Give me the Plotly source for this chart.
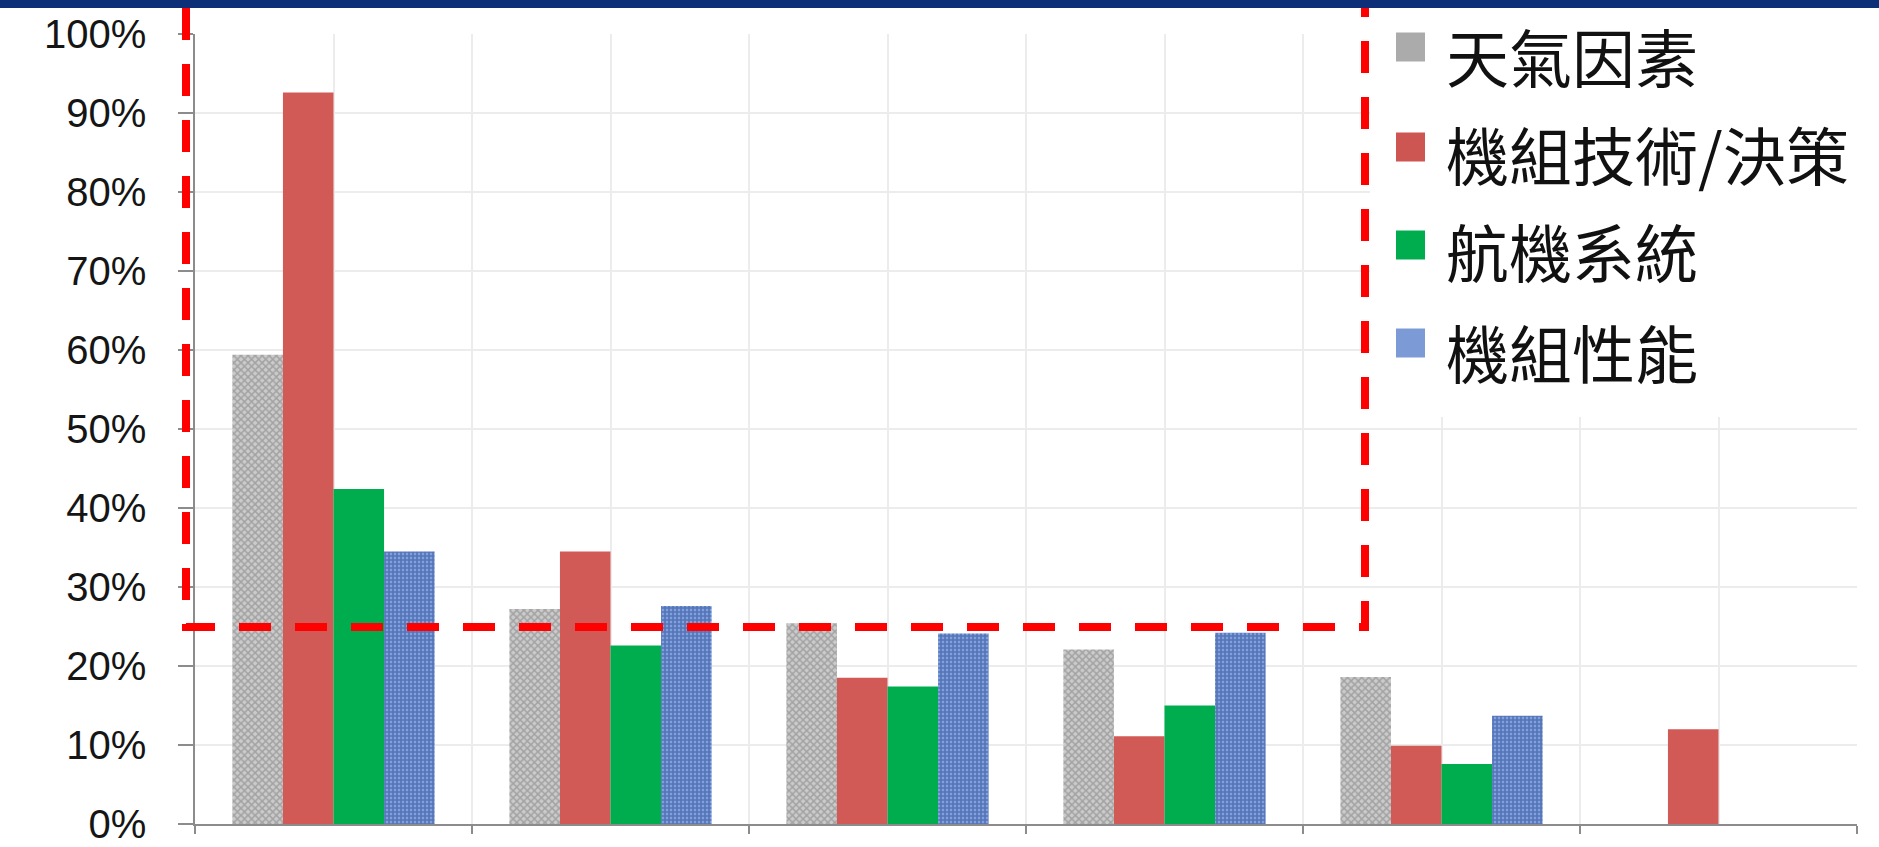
import plotly.graph_objects as go

# Category positions (six groups, no printed labels)
groups = [0, 1, 2, 3, 4, 5]

series_names = ["天氣因素", "機組技術/決策", "航機系統", "機組性能"]
weather = [0.594, 0.272, 0.254, 0.221, 0.186, None]
crew_decision = [0.926, 0.345, 0.185, 0.111, 0.099, 0.120]
aircraft_system = [0.424, 0.226, 0.174, 0.150, 0.076, None]
crew_performance = [0.345, 0.276, 0.241, 0.242, 0.137, None]

y_ticks = [0, 0.1, 0.2, 0.3, 0.4, 0.5, 0.6, 0.7, 0.8, 0.9, 1.0]
y_tick_text = ["0%", "10%", "20%", "30%", "40%", "50%", "60%", "70%", "80%", "90%", "100%"]

W, H = 1879, 847
ML, MR, MT, MB = 195, 22, 34, 23
PW, PH = W - ML - MR, H - MT - MB


def px(x):
    return (x - ML) / PW


def py(y):
    return (H - MB - y) / PH


fig = go.Figure()

fig.add_bar(
    x=groups, y=weather, name=series_names[0],
    marker=dict(color="#bdbdbd", line=dict(width=0),
                pattern=dict(shape="x", bgcolor="#cbcbcb", fgcolor="#7a7a7a",
                             size=5, solidity=0.5)),
)
fig.add_bar(
    x=groups, y=crew_decision, name=series_names[1],
    marker=dict(color="#d15a57", line=dict(width=0)),
)
fig.add_bar(
    x=groups, y=aircraft_system, name=series_names[2],
    marker=dict(color="#00ad4e", line=dict(width=0)),
)
fig.add_bar(
    x=groups, y=crew_performance, name=series_names[3],
    marker=dict(color="#6685cc", line=dict(width=0),
                pattern=dict(shape="+", bgcolor="#80a0de", fgcolor="#28488f",
                             size=4, solidity=0.65)),
)

grid = "#ececec"
axis_col = "#8c8c8c"

fig.update_layout(
    width=W, height=H,
    margin=dict(l=ML, r=MR, t=MT, b=MB, autoexpand=False),
    paper_bgcolor="white", plot_bgcolor="white",
    barmode="group", bargap=0.27, bargroupgap=0,
    showlegend=False,
    xaxis=dict(
        range=[-0.5, 5.5], automargin=False,
        tickmode="array", tickvals=[-0.5, 0.5, 1.5, 2.5, 3.5, 4.5, 5.5],
        showticklabels=False,
        ticks="outside", ticklen=8, tickcolor=axis_col, tickwidth=1.5,
        showline=True, linecolor=axis_col, linewidth=1.5,
        showgrid=True, gridcolor=grid, gridwidth=1.5,
        minor=dict(tickmode="array", tickvals=groups, showgrid=True,
                   gridcolor=grid, gridwidth=1.5, ticks=""),
        zeroline=False, fixedrange=True,
    ),
    yaxis=dict(
        range=[0, 1.0], automargin=False,
        tickmode="array", tickvals=y_ticks, ticktext=y_tick_text,
        ticks="outside", ticklen=15, tickcolor=axis_col, tickwidth=1.5,
        ticklabelstandoff=24, ticklabeloverflow="allow",
        tickfont=dict(family="Liberation Sans, Arial, sans-serif", size=40, color="#151515"),
        showline=True, linecolor=axis_col, linewidth=1.5,
        showgrid=True, gridcolor=grid, gridwidth=1.5,
        zeroline=False, fixedrange=True,
    ),
    font=dict(family="Liberation Sans, Arial, sans-serif"),
)

shapes = []
# navy header band
shapes.append(dict(type="rect", xref="paper", yref="paper",
                   x0=px(0), x1=px(W), y0=py(8), y1=py(-2),
                   fillcolor="#0c2f78", line=dict(width=0), layer="above"))
# white panel behind the legend
shapes.append(dict(type="rect", xref="paper", yref="paper",
                   x0=px(1370), x1=px(W), y0=py(417), y1=py(8),
                   fillcolor="white", line=dict(width=0), layer="above"))
# red dashed outline around the highlighted region (25% threshold)
shapes.append(dict(type="path", xref="paper", yref="paper",
                   path=(f"M {px(186)},{py(8)} L {px(186)},{py(627)} "
                         f"L {px(1365)},{py(627)} L {px(1365)},{py(8)}"),
                   line=dict(color="#ff0000", width=8, dash="32px,24px"),
                   layer="above"))

legend_colors = ["#ababab", "#cd5552", "#00ad4e", "#7b9ad6"]
marker_centers = [47, 147, 245, 343]
text_centers = [54, 152, 249, 350]
for name, col, mc, tc in zip(series_names, legend_colors, marker_centers, text_centers):
    shapes.append(dict(type="rect", xref="paper", yref="paper",
                       x0=px(1396), x1=px(1425), y0=py(mc + 14.5), y1=py(mc - 14.5),
                       fillcolor=col, line=dict(width=0), layer="above"))
    fig.add_annotation(
        xref="paper", yref="paper", x=px(1444), y=py(tc),
        xanchor="left", yanchor="middle", showarrow=False,
        text=name,
        font=dict(family="Noto Sans CJK TC", size=63, color="#111111"),
    )

fig.update_layout(shapes=shapes)

fig.write_html("out.html")
